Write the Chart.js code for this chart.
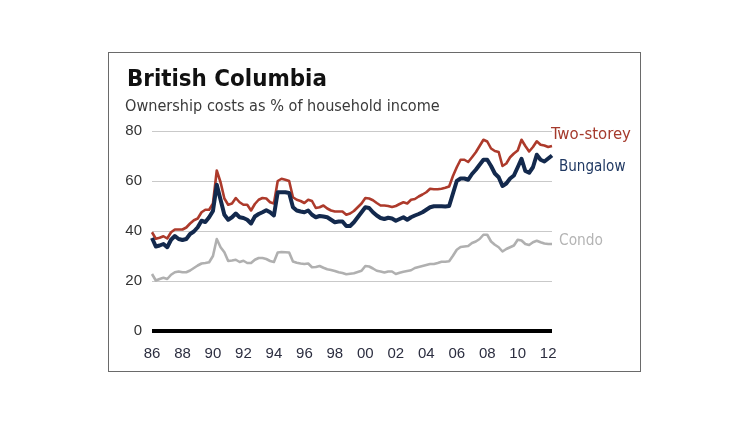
<!DOCTYPE html>
<html>
<head>
<meta charset="utf-8">
<script src="https://cdn.jsdelivr.net/npm/chart.js@4.4.1/dist/chart.umd.min.js"></script>
<style>
  html, body { margin: 0; padding: 0; background: #fff; }
  #wrap { position: relative; width: 750px; height: 421px; overflow: hidden; }
  #c { position: absolute; left: 0; top: 0; }
  #ov { position: absolute; left: 0; top: 0; pointer-events: none; }
  .t { font-family: "DejaVu Sans Condensed", "DejaVu Sans", sans-serif; }
</style>
</head>
<body>
<div id="wrap">
  <canvas id="c" width="750" height="421"></canvas>
  <svg id="ov" width="750" height="421" xmlns="http://www.w3.org/2000/svg">
    <rect x="108.5" y="52.5" width="532" height="319" fill="none" stroke="#6a6a6a" stroke-width="1"/>
    <text class="t" x="127" y="85.5" data-w="200" font-weight="bold" font-size="24" fill="#111">British Columbia</text>
    <text class="t" x="125" y="110.5" data-w="315" font-size="16" fill="#3a3a3a">Ownership costs as % of household income</text>
    <text class="t" x="551" y="138.5" data-w="80" font-size="16" fill="#a53a2c">Two-storey</text>
    <text class="t" x="559" y="170.5" data-w="66.5" font-size="16" fill="#1f3862">Bungalow</text>
    <text class="t" x="559" y="245" data-w="44" font-size="16" fill="#b4b4b4">Condo</text>
  </svg>
</div>
<script>
// Quarterly categories 1986Q1 .. 2012Q2
const firstYear = 1986, lastYear = 2012, lastQuarter = 2;
const quarters = [];
for (let y = firstYear; y <= lastYear; y++) {
  for (let q = 1; q <= 4; q++) {
    if (y === lastYear && q > lastQuarter) break;
    quarters.push(y + 'Q' + q);
  }
}
const tickLabels = ['86','88','90','92','94','96','98','00','02','04','06','08','10','12'];
const yTicks = [0, 20, 40, 60, 80];

const twoStorey = [
  39.5,36.9,37.3,37.9, 37.0,39.5,40.6,40.6, 40.6,41.4,43.0,44.3, 45.0,47.5,48.5,48.5,
  51.0,64.2,59.5,53.0, 50.5,51.0,53.2,51.5, 50.5,50.5,48.2,50.8, 52.5,53.2,53.0,51.5,
  51.0,60.0,60.9,60.5, 60.0,53.5,52.5,52.0, 51.2,52.5,52.0,49.2, 49.5,50.2,49.0,48.2,
  47.8,47.8,47.8,46.5, 47.0,48.0,49.5,51.0, 53.2,53.0,52.3,51.2, 50.2,50.2,50.0,49.6,
  50.0,50.8,51.5,51.0, 52.5,52.8,53.8,54.6, 55.5,56.9,56.7,56.7, 56.9,57.3,57.8,62.0,
  65.5,68.5,68.5,67.6, 69.5,71.5,74.0,76.5, 75.8,73.0,72.0,71.6, 66.0,67.0,69.5,71.0,
  72.2,76.5,74.0,71.8, 73.6,75.9,74.5,74.2, 73.6,74.0
];
const bungalow = [
  37.2,33.8,34.2,34.8, 33.5,36.5,38.0,36.8, 36.4,36.8,38.8,39.8, 41.5,44.1,43.6,45.5,
  48.0,58.5,52.5,46.5, 44.5,45.5,47.0,45.5, 45.2,44.5,43.0,45.8, 46.8,47.5,48.3,47.5,
  46.2,55.5,55.5,55.5, 55.2,49.5,48.2,47.8, 47.5,48.2,46.5,45.5, 46.0,45.8,45.5,44.5,
  43.5,43.8,43.8,42.0, 42.0,43.5,45.5,47.5, 49.5,49.2,47.5,46.2, 45.2,44.8,45.3,45.0,
  44.1,44.8,45.5,44.5, 45.5,46.2,46.8,47.5, 48.5,49.5,49.9,49.9, 49.9,49.8,50.0,55.0,
  60.0,61.0,61.0,60.5, 62.8,64.5,66.5,68.5, 68.5,66.0,63.0,61.5, 58.0,59.0,61.0,62.2,
  65.5,68.9,64.0,63.3, 65.5,70.5,68.5,67.8, 69.0,70.2
];
const condo = [
  22.8,20.2,20.8,21.3, 20.8,22.5,23.5,23.8, 23.5,23.5,24.2,25.2, 26.2,27.0,27.2,27.5,
  30.0,36.8,33.5,31.5, 28.0,28.2,28.5,27.6, 28.1,27.2,27.2,28.5, 29.2,29.2,28.8,28.0,
  27.6,31.4,31.6,31.5, 31.4,27.8,27.3,27.0, 26.8,27.0,25.5,25.6, 26.0,25.3,24.7,24.4,
  24.0,23.5,23.2,22.7, 22.9,23.1,23.6,24.1, 26.0,25.8,25.0,24.1, 23.8,23.4,23.8,23.8,
  22.8,23.3,23.7,24.0, 24.3,25.2,25.6,26.0, 26.4,26.8,26.8,27.2, 27.7,27.7,27.9,30.1,
  32.5,33.6,33.8,34.0, 35.2,35.8,36.8,38.5, 38.5,35.8,34.5,33.5, 31.8,32.8,33.5,34.2,
  36.5,36.2,34.8,34.4, 35.5,36.1,35.5,35.0, 34.8,34.8
];

// fit overlay text widths
document.querySelectorAll('#ov text[data-w]').forEach(el => {
  const target = parseFloat(el.getAttribute('data-w'));
  const f0 = parseFloat(el.getAttribute('font-size'));
  const len = el.getComputedTextLength();
  if (len > 0) el.setAttribute('font-size', (f0 * target / len).toFixed(2));
});

const lineBase = { pointRadius: 0, pointHoverRadius: 0, tension: 0, borderJoinStyle: 'round', borderCapStyle: 'butt', fill: false, clip: false };

new Chart(document.getElementById('c'), {
  type: 'line',
  data: {
    labels: quarters,
    datasets: [
      Object.assign({ label: 'Bungalow', data: bungalow, borderColor: '#13294d', borderWidth: 4 }, lineBase),
      Object.assign({ label: 'Two-storey', data: twoStorey, borderColor: '#ad3a2b', borderWidth: 2.6 }, lineBase),
      Object.assign({ label: 'Condo', data: condo, borderColor: '#b0b0b0', borderWidth: 2.6 }, lineBase)
    ]
  },
  options: {
    responsive: false,
    animation: false,
    devicePixelRatio: 1,
    layout: { padding: { left: 108, right: 198, top: 131, bottom: 50 } },
    plugins: { legend: { display: false }, tooltip: { enabled: false }, title: { display: false } },
    scales: {
      x: {
        type: 'category',
        offset: false,
        afterFit: s => { s.height = 40; },
        border: { display: false },
        grid: { display: false, drawTicks: false },
        ticks: {
          autoSkip: false, maxRotation: 0, minRotation: 0, padding: 14,
          color: '#2c2e40',
          font: { family: 'Liberation Sans, Arial, sans-serif', size: 15 },
          callback: (v, i) => (i % 8 === 0 ? tickLabels[i / 8] : '')
        }
      },
      y: {
        min: yTicks[0], max: yTicks[yTicks.length - 1],
        afterFit: s => { s.width = 44; },
        afterBuildTicks: s => { s.ticks = yTicks.map(v => ({ value: v })); },
        border: { display: false },
        grid: {
          drawTicks: false,
          color: c => (c.tick && c.tick.value === 0 ? '#000' : '#c9c9c9'),
          lineWidth: c => (c.tick && c.tick.value === 0 ? 4 : 1)
        },
        ticks: {
          padding: 10,
          color: '#333',
          font: { family: 'Liberation Sans, Arial, sans-serif', size: 15 }
        }
      }
    }
  }
});
</script>
</body>
</html>
